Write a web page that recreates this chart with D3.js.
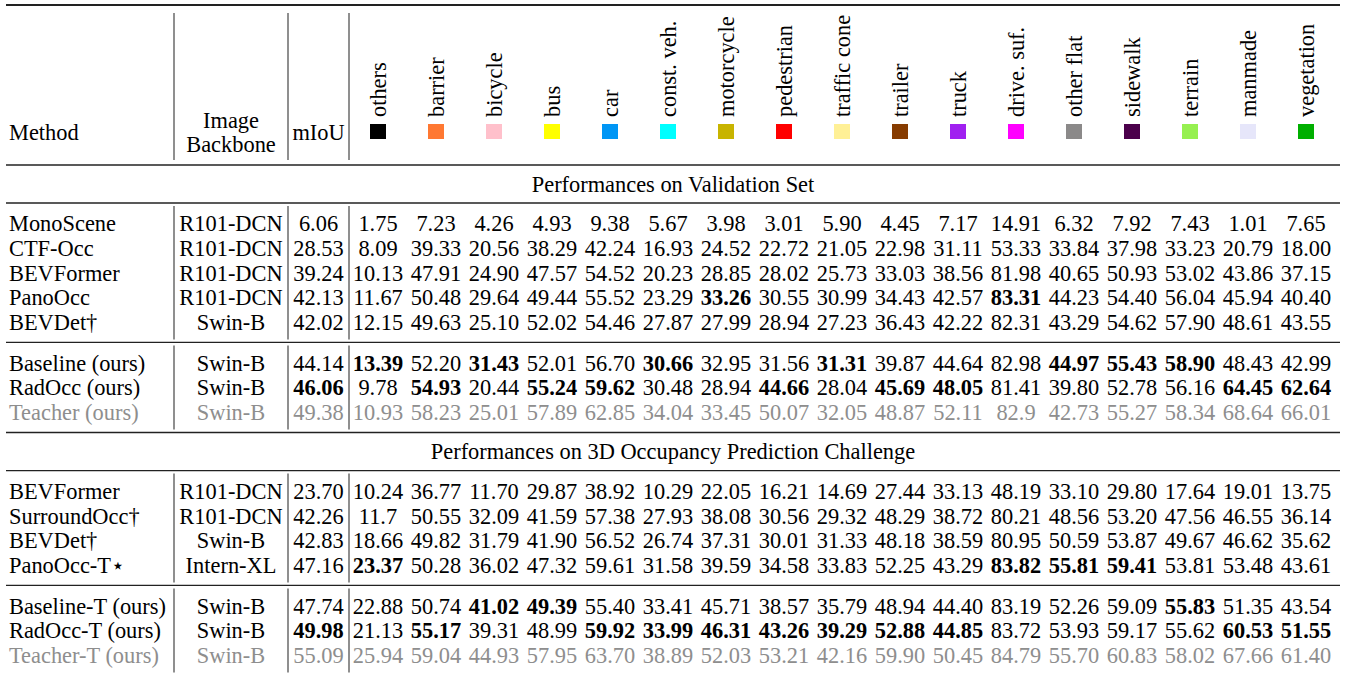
<!DOCTYPE html>
<html lang="en">
<head>
<meta charset="utf-8">
<title>Occupancy results</title>
<script src="https://d3js.org/d3.v7.min.js"></script>
<style>
  body { margin: 0; background: #fff; }
  svg { display: block; font-family: "Liberation Serif", "Times New Roman", serif; font-size: 22.4px; }
  .rule { stroke: #222; }
  .vline { stroke: #333; stroke-width: 1.1; }
  .gray { fill: #8e8e8e; }
</style>
</head>
<body>
<svg width="1351" height="675"></svg>
<script>
// classes and their legend colours
var classes = ["others", "barrier", "bicycle", "bus", "car", "const. veh.", "motorcycle", "pedestrian",
  "traffic cone", "trailer", "truck", "drive. suf.", "other flat", "sidewalk", "terrain", "manmade", "vegetation"];
var classColors = ["#000000", "#ff7832", "#ffc0cb", "#ffff00", "#0096f5", "#00ffff", "#c8b400", "#ff0000",
  "#fff096", "#873c00", "#a020f0", "#ff00ff", "#8b8989", "#4b004b", "#96f050", "#e6e6fa", "#00af00"];

// validation set
var valMethods = ["MonoScene", "CTF-Occ", "BEVFormer", "PanoOcc", "BEVDet\u2020",
  "Baseline (ours)", "RadOcc (ours)", "Teacher (ours)"];
var valBackbones = ["R101-DCN", "R101-DCN", "R101-DCN", "R101-DCN", "Swin-B", "Swin-B", "Swin-B", "Swin-B"];
var valMiou = ["6.06", "28.53", "39.24", "42.13", "42.02", "44.14", "46.06", "49.38"];
var valScores = [
  ["1.75", "7.23", "4.26", "4.93", "9.38", "5.67", "3.98", "3.01", "5.90", "4.45", "7.17", "14.91", "6.32", "7.92", "7.43", "1.01", "7.65"],
  ["8.09", "39.33", "20.56", "38.29", "42.24", "16.93", "24.52", "22.72", "21.05", "22.98", "31.11", "53.33", "33.84", "37.98", "33.23", "20.79", "18.00"],
  ["10.13", "47.91", "24.90", "47.57", "54.52", "20.23", "28.85", "28.02", "25.73", "33.03", "38.56", "81.98", "40.65", "50.93", "53.02", "43.86", "37.15"],
  ["11.67", "50.48", "29.64", "49.44", "55.52", "23.29", "33.26", "30.55", "30.99", "34.43", "42.57", "83.31", "44.23", "54.40", "56.04", "45.94", "40.40"],
  ["12.15", "49.63", "25.10", "52.02", "54.46", "27.87", "27.99", "28.94", "27.23", "36.43", "42.22", "82.31", "43.29", "54.62", "57.90", "48.61", "43.55"],
  ["13.39", "52.20", "31.43", "52.01", "56.70", "30.66", "32.95", "31.56", "31.31", "39.87", "44.64", "82.98", "44.97", "55.43", "58.90", "48.43", "42.99"],
  ["9.78", "54.93", "20.44", "55.24", "59.62", "30.48", "28.94", "44.66", "28.04", "45.69", "48.05", "81.41", "39.80", "52.78", "56.16", "64.45", "62.64"],
  ["10.93", "58.23", "25.01", "57.89", "62.85", "34.04", "33.45", "50.07", "32.05", "48.87", "52.11", "82.9", "42.73", "55.27", "58.34", "68.64", "66.01"]
];
// bold cells per row ("mIoU" or class name)
var valBold = [
  [], [], [],
  ["motorcycle", "drive. suf."],
  [],
  ["others", "bicycle", "const. veh.", "traffic cone", "other flat", "sidewalk", "terrain"],
  ["mIoU", "barrier", "bus", "car", "pedestrian", "trailer", "truck", "manmade", "vegetation"],
  []
];
var valSplit = 5;
var valGray = [7];

// 3D occupancy prediction challenge
var chMethods = ["BEVFormer", "SurroundOcc\u2020", "BEVDet\u2020", "PanoOcc-T\u22c6",
  "Baseline-T (ours)", "RadOcc-T (ours)", "Teacher-T (ours)"];
var chBackbones = ["R101-DCN", "R101-DCN", "Swin-B", "Intern-XL", "Swin-B", "Swin-B", "Swin-B"];
var chMiou = ["23.70", "42.26", "42.83", "47.16", "47.74", "49.98", "55.09"];
var chScores = [
  ["10.24", "36.77", "11.70", "29.87", "38.92", "10.29", "22.05", "16.21", "14.69", "27.44", "33.13", "48.19", "33.10", "29.80", "17.64", "19.01", "13.75"],
  ["11.7", "50.55", "32.09", "41.59", "57.38", "27.93", "38.08", "30.56", "29.32", "48.29", "38.72", "80.21", "48.56", "53.20", "47.56", "46.55", "36.14"],
  ["18.66", "49.82", "31.79", "41.90", "56.52", "26.74", "37.31", "30.01", "31.33", "48.18", "38.59", "80.95", "50.59", "53.87", "49.67", "46.62", "35.62"],
  ["23.37", "50.28", "36.02", "47.32", "59.61", "31.58", "39.59", "34.58", "33.83", "52.25", "43.29", "83.82", "55.81", "59.41", "53.81", "53.48", "43.61"],
  ["22.88", "50.74", "41.02", "49.39", "55.40", "33.41", "45.71", "38.57", "35.79", "48.94", "44.40", "83.19", "52.26", "59.09", "55.83", "51.35", "43.54"],
  ["21.13", "55.17", "39.31", "48.99", "59.92", "33.99", "46.31", "43.26", "39.29", "52.88", "44.85", "83.72", "53.93", "59.17", "55.62", "60.53", "51.55"],
  ["25.94", "59.04", "44.93", "57.95", "63.70", "38.89", "52.03", "53.21", "42.16", "59.90", "50.45", "84.79", "55.70", "60.83", "58.02", "67.66", "61.40"]
];
var chBold = [
  [], [], [],
  ["others", "drive. suf.", "other flat", "sidewalk"],
  ["bicycle", "bus", "terrain"],
  ["mIoU", "barrier", "car", "const. veh.", "motorcycle", "pedestrian", "traffic cone", "trailer", "truck", "manmade", "vegetation"],
  []
];
var chSplit = 4;
var chGray = [6];

var sections = [
  { title: "Performances on Validation Set", methods: valMethods, backbones: valBackbones, miou: valMiou, scores: valScores, bold: valBold, split: valSplit, gray: valGray },
  { title: "Performances on 3D Occupancy Prediction Challenge", methods: chMethods, backbones: chBackbones, miou: chMiou, scores: chScores, bold: chBold, split: chSplit, gray: chGray }
];

var svg = d3.select("svg");

// columns
var left = 6, right = 1340;
var methodX = 9;
var vlines = [174, 288, 349];
var backboneX = (vlines[0] + vlines[1]) / 2;
var miouX = (vlines[1] + vlines[2]) / 2;
var x = d3.scaleBand().domain(classes).range([349, 1335]);
function cx(c) { return x(c) + x.bandwidth() / 2; }

// vertical spacing
var rowStep = 24.6, rowPad = 20.5, titlePad = 19;

function rule(y, w) {
  svg.append("line").attr("class", "rule")
    .attr("x1", left).attr("x2", right).attr("y1", y).attr("y2", y)
    .attr("stroke-width", w);
}
function vl(y1, y2) {
  vlines.forEach(function(vx) {
    svg.append("line").attr("class", "vline")
      .attr("x1", vx).attr("x2", vx).attr("y1", y1).attr("y2", y2);
  });
}

// header
var headTop = 5, headBottom = 165;
rule(headTop, 2);
vl(13, 160);
svg.append("text").attr("x", methodX).attr("y", 140).text("Method");
svg.append("text").attr("x", backboneX).attr("y", 128).attr("text-anchor", "middle").text("Image");
svg.append("text").attr("x", backboneX).attr("y", 152).attr("text-anchor", "middle").text("Backbone");
svg.append("text").attr("x", miouX).attr("y", 140).attr("text-anchor", "middle").text("mIoU");

svg.selectAll("text.cls").data(classes).enter().append("text")
  .attr("class", "cls")
  .attr("transform", function(d) { return "translate(" + (cx(d) + 8) + ",117) rotate(-90)"; })
  .text(function(d) { return d; });

svg.selectAll("rect.sw").data(classes).enter().append("rect")
  .attr("class", "sw")
  .attr("x", function(d) { return cx(d) - 8; })
  .attr("y", 124)
  .attr("width", 16).attr("height", 15)
  .attr("fill", function(d, i) { return classColors[i]; });

rule(headBottom, 1.5);

// body
var y = headBottom;
sections.forEach(function(sec, si) {
  if (si > 0) {
    rule(y, 1.5);
  }
  var ty = y + titlePad;
  svg.append("text").attr("x", (left + right) / 2).attr("y", ty).attr("dy", "0.35em")
    .attr("text-anchor", "middle").text(sec.title);
  y = ty + titlePad;
  rule(y, 1.3);

  var groups = [d3.range(0, sec.split), d3.range(sec.split, sec.methods.length)];
  groups.forEach(function(rows, gi) {
    if (gi > 0) rule(y, 1.3);
    var gTop = y;
    var ys = d3.scaleLinear().domain([0, 1]).range([gTop + rowPad, gTop + rowPad + rowStep]);
    rows.forEach(function(r, k) {
      var ry = ys(k);
      var isGray = sec.gray.indexOf(r) >= 0;
      var g = svg.append("g").attr("class", isGray ? "gray" : null);
      var isBold = function(key) { return sec.bold[r].indexOf(key) >= 0; };
      g.append("text").attr("x", methodX).attr("y", ry).attr("dy", "0.35em").text(sec.methods[r]);
      g.append("text").attr("x", backboneX).attr("y", ry).attr("dy", "0.35em")
        .attr("text-anchor", "middle").text(sec.backbones[r]);
      g.append("text").attr("x", miouX).attr("y", ry).attr("dy", "0.35em")
        .attr("text-anchor", "middle")
        .attr("font-weight", isBold("mIoU") ? "bold" : null)
        .text(sec.miou[r]);
      g.selectAll("text.v").data(sec.scores[r]).enter().append("text")
        .attr("class", "v")
        .attr("x", function(d, i) { return cx(classes[i]); })
        .attr("y", ry).attr("dy", "0.35em")
        .attr("text-anchor", "middle")
        .attr("font-weight", function(d, i) { return isBold(classes[i]) ? "bold" : null; })
        .text(function(d) { return d; });
    });
    var gBottom = ys(rows.length - 1) + rowPad;
    vl(gTop + 3, gBottom - 3);
    y = gBottom;
  });
});
</script>
</body>
</html>
